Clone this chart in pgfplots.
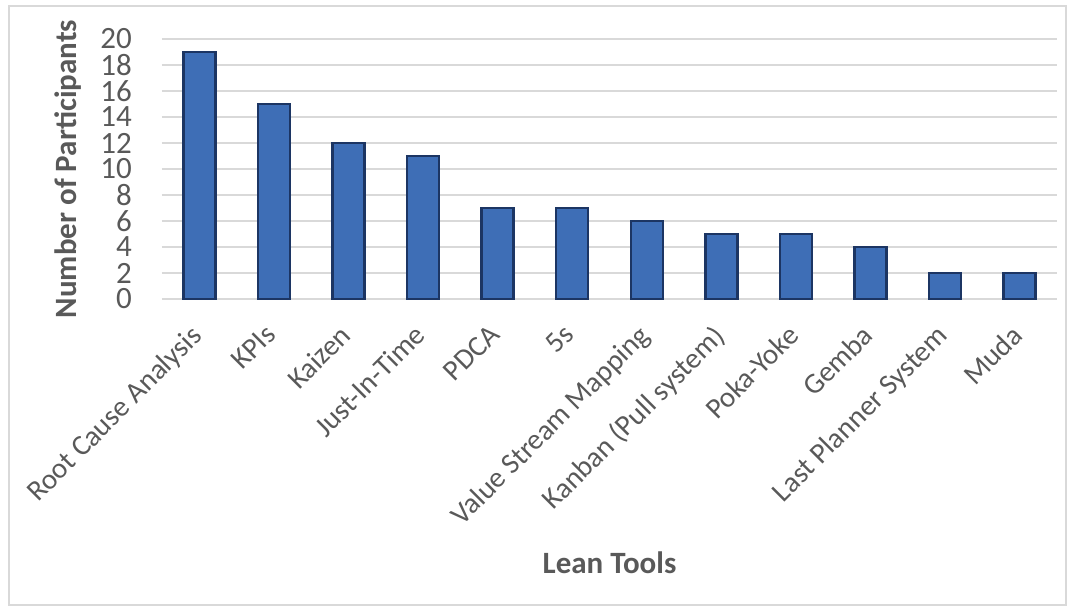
\documentclass[border=0pt]{standalone}
\usepackage{pgfplots}
\pgfplotsset{compat=1.18}
\usepackage{fontspec}
\setmainfont{Carlito}
\definecolor{txt}{HTML}{595959}
\definecolor{gridc}{HTML}{D9D9D9}
\definecolor{barlo}{HTML}{3E6EB6}
\definecolor{barhi}{HTML}{6A9BDC}
\definecolor{baredge}{HTML}{1C3563}
\begin{document}
\begin{tikzpicture}
\useasboundingbox (-162bp,-314bp) rectangle (913bp,299bp);
\draw[gridc, line width=1.5bp] (-153bp,-306bp) rectangle (904bp,293bp);
\begin{axis}[
    scale only axis,
    width=895bp, height=260bp,
    xmin=-0.5, xmax=11.5,
    ymin=0, ymax=20,
    ytick={0,2,...,20},
    xtick=data,
    xticklabels={Root Cause Analysis, KPIs, Kaizen, Just-In-Time, PDCA, 5s,
        Value Stream Mapping, Kanban (Pull system), Poka-Yoke, Gemba,
        Last Planner System, Muda},
    axis line style={draw=none},
    major tick length=0pt,
    ymajorgrids,
    grid style={gridc, line width=1.5bp},
    /pgf/number format/assume math mode=true,
    yticklabel style={font=\fontsize{31bp}{31bp}\selectfont, text=txt,
        anchor=east, inner sep=0pt, xshift=-30bp},
    xticklabel style={font=\fontsize{29bp}{29bp}\selectfont, text=txt,
        xshift=-10bp, yshift=-24bp, rotate=45, anchor=north east, inner sep=0pt},
    xlabel={Lean Tools},
    ylabel={Number of Participants},
    every axis x label/.style={at={(axis description cs:0.5,0)}, anchor=center,
        yshift=-264bp, font=\bfseries\fontsize{31bp}{31bp}\selectfont, text=txt},
    every axis y label/.style={at={(axis description cs:0,0.5)}, xshift=-94bp,
        anchor=center, rotate=90, font=\bfseries\fontsize{31bp}{31bp}\selectfont, text=txt},
]
\addplot[ybar, bar width=32bp, draw=baredge, line width=2.5bp,
    left color=barlo, middle color=barhi, right color=barlo]
coordinates {
    (0,19) (1,15) (2,12) (3,11) (4,7) (5,7)
    (6,6) (7,5) (8,5) (9,4) (10,2) (11,2)
};
\end{axis}
\end{tikzpicture}
\end{document}
